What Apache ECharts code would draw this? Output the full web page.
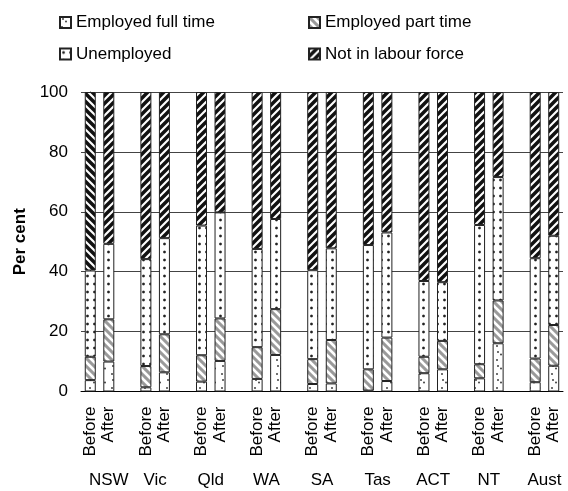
<!DOCTYPE html>
<html>
<head>
<meta charset="utf-8">
<script src="https://cdn.jsdelivr.net/npm/echarts@6/dist/echarts.min.js"></script>
<style>
html,body{margin:0;padding:0;background:#fff;}
#c{width:568px;height:491px;}
</style>
</head>
<body>
<div id="c"></div>
<script>
// ---- data ----
const states = ['NSW','Vic','Qld','WA','SA','Tas','ACT','NT','Aust'];
const periods = ['Before','After'];
const seriesNames = ['Employed full time','Employed part time','Unemployed','Not in labour force'];
// values in order NSW Before, NSW After, Vic Before, Vic After, ...
const fullTime   = [3.8,10.0, 1.4,6.4, 3.3,10.2, 4.2,12.2, 2.5,2.7, 0.3,3.5, 6.1,7.4, 4.4,16.1, 3.1,8.6];
const partTime   = [7.8,14.1, 7.1,12.7, 8.8,14.2, 10.6,15.3, 8.3,14.5, 7.1,14.5, 5.5,9.5, 4.7,14.3, 7.9,13.6];
const unemployed = [28.8,25.2, 35.7,32.1, 43.3,35.4, 32.8,30.1, 29.7,30.6, 41.5,35.1, 25.3,19.6, 46.5,41.2, 33.5,29.8];
const notInLF    = [59.6,50.7, 55.8,48.8, 44.6,40.2, 52.4,42.4, 59.5,52.2, 51.1,46.9, 63.1,63.5, 44.4,28.4, 55.5,48.0];
const yTicks = [0,20,40,60,80,100];

// ---- patterns ----
function pattern(w, h, draw){
  const s = 2;
  const c = document.createElement('canvas');
  c.width = w*s; c.height = h*s;
  const ctx = c.getContext('2d');
  ctx.scale(s, s);
  ctx.fillStyle = '#fff'; ctx.fillRect(0,0,w,h);
  draw(ctx, w, h);
  const o = document.createElement('canvas');
  o.width = w; o.height = h;
  o.getContext('2d').drawImage(c, 0, 0, w, h);
  return o;
}
function stripes(dir, color, lw){
  return pattern(8, 8, (ctx) => {
    ctx.strokeStyle = color; ctx.lineWidth = lw;
    for (let k=-2;k<=2;k++){
      ctx.beginPath();
      if (dir === '/') { ctx.moveTo(-8 + k*8, 16); ctx.lineTo(16 + k*8, -8); }
      else { ctx.moveTo(-8 + k*8, -8); ctx.lineTo(16 + k*8, 16); }
      ctx.stroke();
    }
  });
}
function dots(w, h, pts, r, color){
  return pattern(w, h, (ctx) => {
    ctx.fillStyle = color;
    pts.forEach(p => { ctx.beginPath(); ctx.arc(p[0], p[1], r, 0, Math.PI*2); ctx.fill(); });
  });
}
const patFT = dots(11, 14, [[3,2],[6,4.5],[2,10]], 1.0, '#444');
const patPT = stripes('\\', '#9a9a9a', 3);
const patU  = dots(7, 8, [[3.5,4]], 1.35, '#222');
const patN  = stripes('/', '#111', 3.5);
const patN2 = stripes('\\', '#111', 3.5);
const patterns = [patFT, patPT, patU, patN];

// ---- build categories with gaps ----
const categories = [];
const slotIndex = [];
states.forEach((s, i) => {
  periods.forEach(p => { slotIndex.push(categories.length); categories.push(p); });
  if (i < states.length - 1) categories.push('');
});
function toSlots(vals){
  const arr = categories.map(() => '-');
  vals.forEach((v, j) => { arr[slotIndex[j]] = v; });
  return arr;
}
const allVals = [fullTime, partTime, unemployed, notInLF];
const series = seriesNames.map((name, k) => {
  const d = toSlots(allVals[k]);
  if (k === 3) d[0] = { value: d[0], itemStyle: { color: { image: patN2, repeat: 'repeat' } } };
  return {
    name, type: 'bar', stack: 'all', barWidth: 11,
    data: d,
    itemStyle: { color: { image: patterns[k], repeat: 'repeat' }, borderColor: '#222', borderWidth: 1 },
    emphasis: { disabled: true }
  };
});

const labelPos = states.map((s, i) => i*3 + 0.5 + (i === 0 ? 0.5 : 0));
const font = "'Liberation Sans', Arial, sans-serif";

const chart = echarts.init(document.getElementById('c'));
const legendBase = { orient: 'vertical', top: 14, itemGap: 14.5, padding: 0,
  itemWidth: 11, itemHeight: 11, icon: 'rect', textStyle: { fontSize: 17, color: '#000', fontFamily: font } };
chart.setOption({
  animation: false,
  textStyle: { fontFamily: font },
  legend: [
    Object.assign({}, legendBase, { data: [seriesNames[0], seriesNames[2]], left: 59 }),
    Object.assign({}, legendBase, { data: [seriesNames[1], seriesNames[3]], left: 308 })
  ],
  grid: { left: 81, right: 5, top: 92, bottom: 99.5, containLabel: false },
  xAxis: [
    { type: 'category', data: categories,
      axisLine: { lineStyle: { color: '#000', width: 1 } },
      axisTick: { show: false },
      axisLabel: { interval: 0, rotate: 90, fontSize: 17, color: '#000', margin: 15, fontFamily: font } },
    { type: 'value', position: 'bottom', min: -0.5, max: 25.5,
      axisLine: { show: false }, axisTick: { show: false }, splitLine: { show: false },
      axisLabel: { customValues: labelPos, fontSize: 17, color: '#000', margin: 80, fontFamily: font,
        formatter: v => states[Math.round((v - 0.5) / 3)] } }
  ],
  yAxis: {
    type: 'value', min: yTicks[0], max: yTicks[yTicks.length-1], interval: 20,
    name: 'Per cent', nameLocation: 'middle', nameGap: 52, nameRotate: 90,
    nameTextStyle: { fontSize: 17, fontWeight: 'bold', color: '#000', fontFamily: font },
    axisLine: { show: true, lineStyle: { color: '#444', width: 1 } },
    axisTick: { show: true, length: 4, lineStyle: { color: '#000' } },
    axisLabel: { fontSize: 17, color: '#000', margin: 13, fontFamily: font },
    splitLine: { lineStyle: { color: '#444', width: 1 } }
  },
  series
});
</script>
</body>
</html>
